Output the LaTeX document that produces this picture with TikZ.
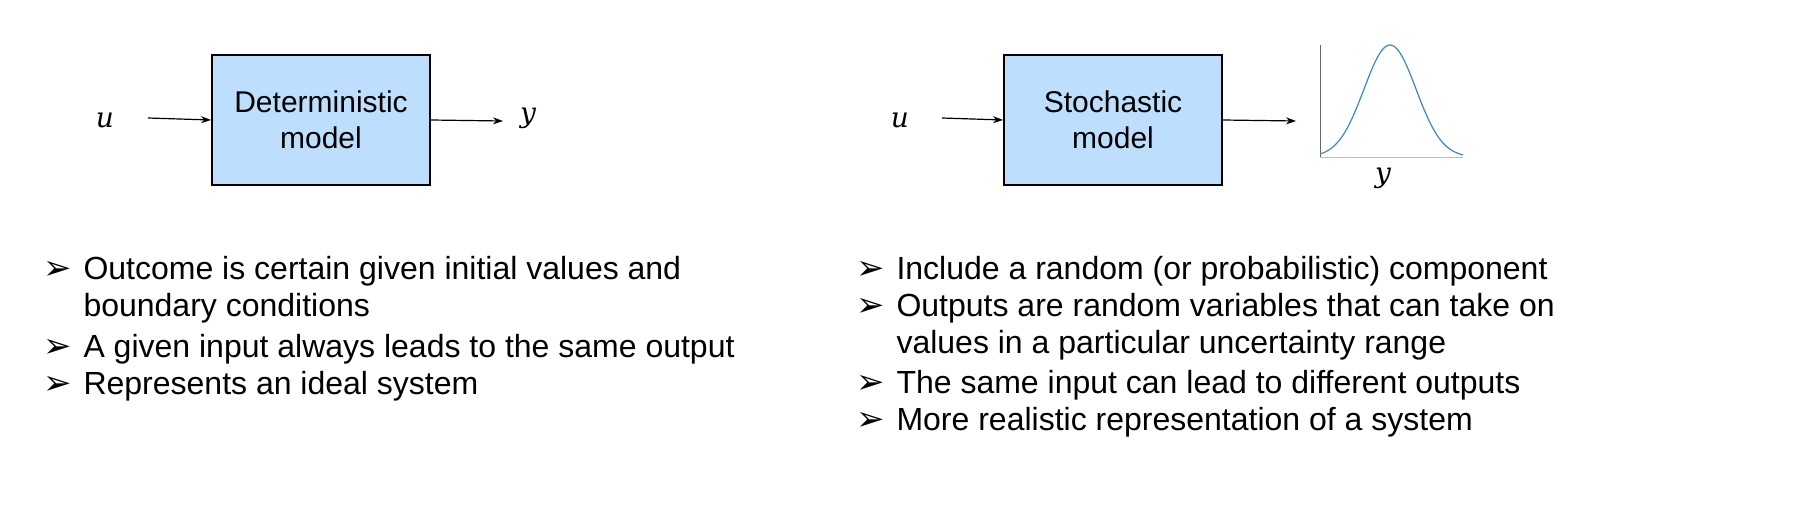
\documentclass[tikz,border=0pt]{standalone}
\usepackage{fontspec}
\setmainfont{Liberation Sans}
\newfontfamily\djv{DejaVu Sans}
\newfontfamily\mth{DejaVu Serif}
\usetikzlibrary{arrows.meta}
\definecolor{boxblue}{HTML}{BDDFFD}
\definecolor{curve}{HTML}{3A86C8}
\tikzset{
  x=1pt,y=-1pt,
  box/.style={draw=black,line width=2pt,fill=boxblue,minimum width=218pt,minimum height=130pt,align=center,font=\fontsize{30}{36}\selectfont},
  var/.style={font=\fontsize{28}{30}\mth\itshape},
  arr/.style={line width=1.2pt,-{Stealth[length=10pt,width=7pt]}},
  bul/.style={anchor=base west,font=\fontsize{32}{37}\selectfont,align=left},
  mk/.style={anchor=base west,font=\fontsize{34}{36}\djv}
}
\begin{document}
\begin{tikzpicture}
\useasboundingbox (0,0) rectangle (1799,519);
% left
\node[box] (b1) at (321,120) {Deterministic\\model};
\node[var] (u1) at (105,120) {u};
\node[var] (y1) at (528,118) {y};
\coordinate (u1e) at (148,118);
\draw[arr] (u1e) -- (b1.west);
\draw[arr] (b1.east) -- (503,121) coordinate (y1s);
% right
\node[box] (b2) at (1113,120) {Stochastic\\model};
\node[var] (u2) at (900,120) {u};
\coordinate (u2e) at (942,118);
\draw[arr] (u2e) -- (b2.west);
\draw[arr] (b2.east) -- (1296,121) coordinate (y2s);
\draw[black!60,line width=1pt] (1320,45) -- (1320,157);
\draw[black!25,line width=1pt] (1320,157) -- (1463,157);
\draw[curve,line width=1.2pt,domain=1320:1463,samples=80] plot (\x,{157-112*exp(-((\x-1390)/26)^2/2)});
\node[var] (y2) at (1383,178) {y};
% bullets left
\foreach \yy in {279,357,394} \node[mk] at (40,\yy) {➢};
\node[bul] at (80,279) {Outcome is certain given initial values and};
\node[bul] at (80,316) {boundary conditions};
\node[bul] at (80,357) {A given input always leads to the same output};
\node[bul] at (80,394) {Represents an ideal system};
% bullets right
\foreach \yy in {279,316,393,430} \node[mk] at (853,\yy) {➢};
\node[bul] at (893,279) {Include a random (or probabilistic) component};
\node[bul] at (893,316) {Outputs are random variables that can take on};
\node[bul] at (893,353) {values in a particular uncertainty range};
\node[bul] at (893,393) {The same input can lead to different outputs};
\node[bul] at (893,430) {More realistic representation of a system};
\end{tikzpicture}
\end{document}
